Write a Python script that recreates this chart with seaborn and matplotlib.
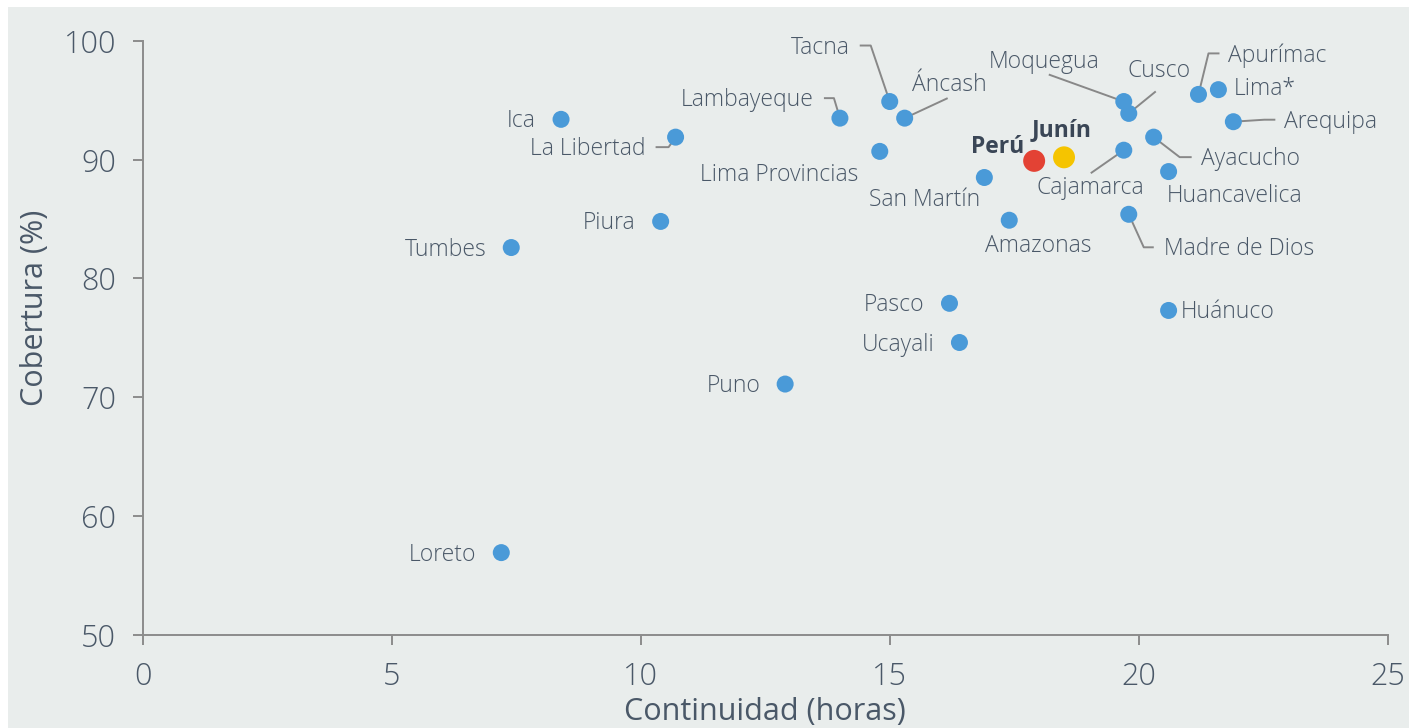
import pandas as pd
import matplotlib.pyplot as plt
import seaborn as sns
from matplotlib.patches import Rectangle

# Datos: continuidad (horas) vs cobertura (%) por región
regiones = ['Ica', 'La Libertad', 'Tumbes', 'Piura', 'Loreto', 'Puno', 'Lambayeque',
            'Tacna', 'Áncash', 'Lima Provincias', 'San Martín', 'Amazonas', 'Pasco',
            'Ucayali', 'Perú', 'Junín', 'Moquegua', 'Cusco', 'Cajamarca', 'Ayacucho',
            'Huancavelica', 'Madre de Dios', 'Huánuco', 'Apurímac', 'Lima*', 'Arequipa']
continuidad = [8.4, 10.7, 7.4, 10.4, 7.2, 12.9, 14.0,
               15.0, 15.3, 14.8, 16.9, 17.4, 16.2,
               16.4, 17.9, 18.5, 19.7, 19.8, 19.7, 20.3,
               20.6, 19.8, 20.6, 21.2, 21.6, 21.9]
cobertura = [93.4, 91.9, 82.6, 84.8, 56.9, 71.1, 93.5,
             94.9, 93.5, 90.7, 88.5, 84.9, 77.9,
             74.6, 89.9, 90.2, 94.9, 93.9, 90.8, 91.9,
             89.0, 85.4, 77.3, 95.5, 95.9, 93.2]
tipo = ['Perú' if r == 'Perú' else 'Junín' if r == 'Junín' else 'Región' for r in regiones]

x_ticks = [0, 5, 10, 15, 20, 25]
y_ticks = [50, 60, 70, 80, 90, 100]

# Posición de etiquetas (px respecto al punto): dx, dy, alineación, línea guía
etiquetas = {
    'Ica': (-25, 0, 'right', None),
    'La Libertad': (-30, -10, 'right', [(0, 0), (-7, -10), (-20, -10)]),
    'Tumbes': (-25, 0, 'right', None),
    'Piura': (-25, 0, 'right', None),
    'Loreto': (-25, 0, 'right', None),
    'Puno': (-25, 0, 'right', None),
    'Pasco': (-25, 0, 'right', None),
    'Ucayali': (-25, 0, 'right', None),
    'Lambayeque': (-26, 20, 'right', [(0, 0), (-6, 20), (-16, 20)]),
    'Tacna': (-40, 56, 'right', [(0, 0), (-19, 56), (-30, 56)]),
    'Áncash': (7, 35, 'left', [(0, 0), (43, 20)]),
    'Lima Provincias': (-21, -22, 'right', None),
    'San Martín': (-4, -20, 'right', None),
    'Amazonas': (-24, -24, 'left', None),
    'Perú': (-10, 16, 'right', None),
    'Junín': (-2, 29, 'center', None),
    'Moquegua': (-24, 42, 'right', [(0, 0), (-75, 27)]),
    'Cusco': (-1, 44, 'left', [(0, 0), (27, 22)]),
    'Cajamarca': (-33, -36, 'center', [(0, 0), (-33, -23)]),
    'Ayacucho': (47, -20, 'left', [(0, 0), (26, -20), (38, -20)]),
    'Huancavelica': (-2, -22, 'left', None),
    'Madre de Dios': (35, -33, 'left', [(0, 0), (15, -33), (25, -33)]),
    'Huánuco': (12, 0, 'left', None),
    'Apurímac': (30, 41, 'left', [(0, 0), (10, 41), (21, 41)]),
    'Lima*': (15, 3, 'left', None),
    'Arequipa': (51, 2, 'left', [(0, 0), (31, 2), (42, 2)]),
}

df = pd.DataFrame({'region': regiones, 'continuidad': continuidad,
                   'cobertura': cobertura, 'tipo': tipo})

BG = '#e9edec'
TEXT = '#4a5868'
SPINE = '#8c8c8c'

sns.set_theme(style='ticks')
plt.rcParams['font.family'] = ['Open Sans', 'DejaVu Sans']
plt.rcParams['font.weight'] = 'light'

fig = plt.figure(figsize=(14.09, 7.28), dpi=100, facecolor='white')
fig.patches.append(Rectangle((8 / 1409, 0), 1, (728 - 7) / 728, transform=fig.transFigure,
                             facecolor=BG, edgecolor='none', zorder=-10))
ax = fig.add_axes([0.1013, 0.1284, 0.8836, 0.8153])
ax.set_facecolor(BG)

sns.scatterplot(data=df, x='continuidad', y='cobertura', hue='tipo', size='tipo',
                palette={'Región': '#4a9ad8', 'Perú': '#e34234', 'Junín': '#f5c400'},
                sizes={'Región': 150, 'Perú': 250, 'Junín': 250},
                linewidth=0, legend=False, zorder=3, ax=ax)

ax.set_xlim(0, 25)
ax.set_ylim(50, 100)
ax.set_xticks(x_ticks)
ax.set_yticks(y_ticks)
ax.tick_params(axis='both', direction='out', length=7.2, width=1.4, color=SPINE,
               labelsize=22, labelcolor=TEXT, pad=12)
for side in ['top', 'right']:
    ax.spines[side].set_visible(False)
for side in ['left', 'bottom']:
    ax.spines[side].set_color(SPINE)
    ax.spines[side].set_linewidth(1.4)

ax.set_xlabel('Continuidad (horas)', fontsize=22, color=TEXT)
ax.set_ylabel('Cobertura (%)', fontsize=22, color=TEXT)
ax.xaxis.set_label_coords(0.5, -0.106)
ax.yaxis.set_label_coords(-0.0745, 0.55)

to_disp = ax.transData.transform
to_data = ax.transData.inverted().transform
for _, row in df.iterrows():
    dx, dy, ha, guia = etiquetas[row['region']]
    px, py = to_disp((row['continuidad'], row['cobertura']))
    if guia:
        pts = to_data([(px + gx, py + gy) for gx, gy in guia])
        ax.plot(pts[:, 0], pts[:, 1], color='#888888', lw=1.4, zorder=2,
                solid_capstyle='butt')
    bold = row['region'] in ('Perú', 'Junín')
    # bajar 2 px para centrar visualmente con el punto
    ax.annotate(row['region'], (row['continuidad'], row['cobertura']),
                xytext=(dx, dy - 2), textcoords='offset pixels', ha=ha, va='center',
                fontsize=16.5, color='#3a4656' if bold else TEXT,
                fontweight='bold' if bold else 'light', zorder=4)

fig.savefig('out.png', dpi=100, facecolor=fig.get_facecolor())
